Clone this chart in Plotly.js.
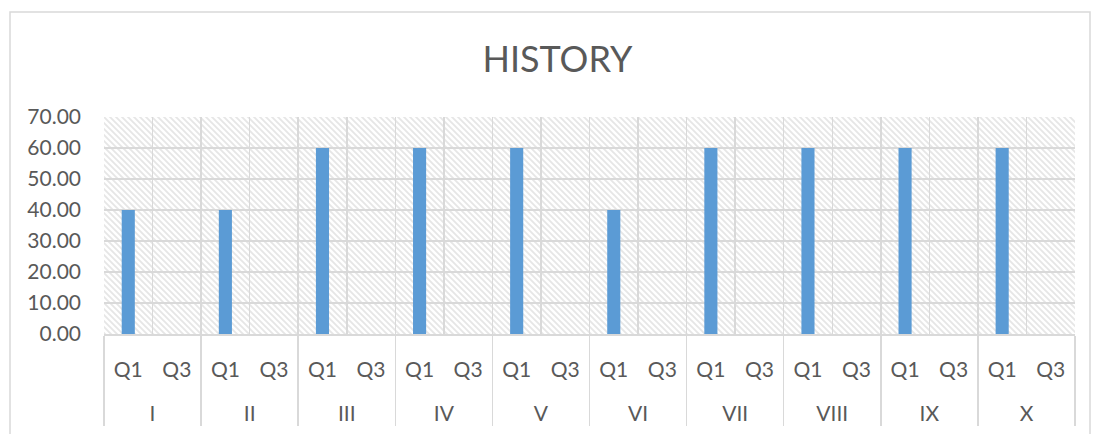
<!DOCTYPE html>
<html>
<head>
<meta charset="utf-8">
<script src="https://cdn.plot.ly/plotly-3.0.1.min.js"></script>
<style>html,body{margin:0;padding:0;background:#fff;}#chart{width:1093px;height:434px;}</style>
</head>
<body>
<div id="chart"></div>
<script>
const groups = ["I","II","III","IV","V","VI","VII","VIII","IX","X"];
const quarters = ["Q1","Q3"];
const q1Values = [40,40,60,60,60,40,60,60,60,60];
const q3Values = [null,null,null,null,null,null,null,null,null,null];
const yTicks = [0,10,20,30,40,50,60,70];

const xGroups = [], xSubs = [], yVals = [];
const pad = '<br><span style="font-size:46px"> </span>';
groups.forEach((g,i) => {
  xGroups.push(g, g);
  // trailing blank line only adds vertical room between the two label rows
  xSubs.push(quarters[0] + pad, quarters[1] + pad);
  yVals.push(q1Values[i], q3Values[i]);
});

const P = 6;
const hatchSvg = '<svg xmlns="http://www.w3.org/2000/svg" width="971" height="217">' +
  '<defs><pattern id="h" width="' + P + '" height="' + P + '" patternUnits="userSpaceOnUse">' +
  '<rect width="' + P + '" height="' + P + '" fill="#ffffff"/>' +
  '<path d="M-1,-1 L' + (P+1) + ',' + (P+1) + ' M-1,' + (P-1) + ' L1,' + (P+1) + ' M' + (P-1) + ',-1 L' + (P+1) + ',1" stroke="#e6e6e6" stroke-width="1.8"/>' +
  '</pattern></defs><rect width="971" height="217" fill="url(#h)"/></svg>';
const hatchUri = 'data:image/svg+xml;base64,' + btoa(hatchSvg);

const grey = '#d9d9d9';
const textColor = '#595959';

const trace = {
  type: 'bar',
  x: [xGroups, xSubs],
  y: yVals,
  width: 0.27,
  marker: {color: '#5b9bd5'},
  hoverinfo: 'skip'
};

const layout = {
  width: 1093, height: 434,
  margin: {l: 104, r: 18, t: 117, b: 100, pad: 0},
  paper_bgcolor: '#ffffff',
  plot_bgcolor: 'rgba(0,0,0,0)',
  showlegend: false,
  font: {family: 'Lato, Liberation Sans, Arial, sans-serif', color: textColor},
  title: {
    text: 'HISTORY',
    font: {family: 'Lato, Liberation Sans, Arial, sans-serif', size: 36, color: textColor},
    x: 0.51, xref: 'container', xanchor: 'center',
    y: 1 - 59/434, yref: 'container', yanchor: 'middle'
  },
  xaxis: {
    type: 'multicategory',
    tickson: 'boundaries',
    showgrid: true, gridcolor: grey, gridwidth: 1.5,
    showline: true, linecolor: grey, linewidth: 1.5,
    showdividers: true, dividercolor: grey, dividerwidth: 1.5,
    ticks: '', ticklabelstandoff: 16,
    tickfont: {size: 21, color: textColor},
    fixedrange: true
  },
  yaxis: {
    range: [0, 70],
    tickvals: yTicks,
    tickformat: '.2f',
    showgrid: true, gridcolor: grey, gridwidth: 1.5,
    zeroline: false, showline: false,
    ticks: '', ticklabelstandoff: 22,
    tickfont: {size: 21, color: textColor},
    fixedrange: true
  },
  images: [{
    source: hatchUri, xref: 'paper', yref: 'paper',
    x: 0, y: 1, sizex: 1, sizey: 1, sizing: 'stretch',
    xanchor: 'left', yanchor: 'top', layer: 'below', opacity: 1
  }],
  shapes: [{
    type: 'rect', xref: 'paper', yref: 'paper',
    x0: (10-104)/971, x1: (1090-104)/971,
    y0: (334-445)/217, y1: (334-12)/217,
    line: {color: grey, width: 1.5}, fillcolor: 'rgba(0,0,0,0)', layer: 'below'
  }]
};

Plotly.newPlot('chart', [trace], layout, {displayModeBar: false, staticPlot: true});
</script>
</body>
</html>
